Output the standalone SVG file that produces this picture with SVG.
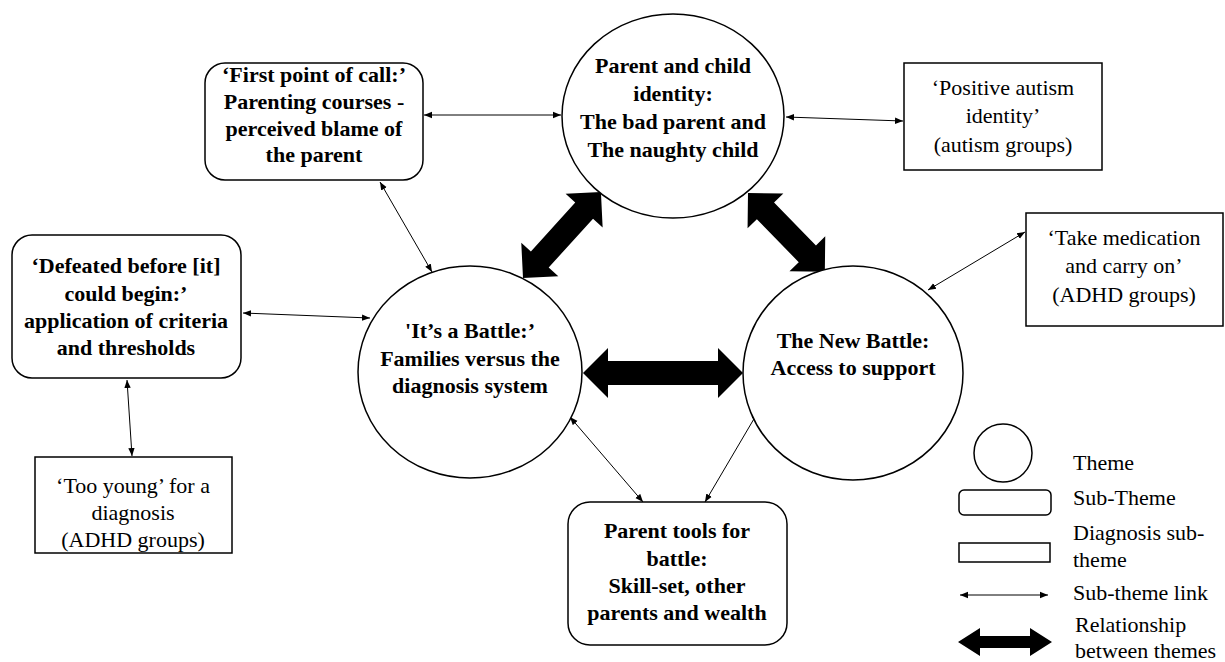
<svg xmlns="http://www.w3.org/2000/svg" width="1225" height="662" viewBox="0 0 1225 662">
<style>
.sh{fill:#fff;stroke:#000;stroke-width:1.5}
text{font-family:'Liberation Serif','Times New Roman',Times,serif;fill:#000}
.b{font-weight:bold;font-size:22px;text-anchor:middle}
.r{font-size:22px;text-anchor:middle}
.lg{font-size:22px}
.ln{stroke:#000;stroke-width:1;fill:none;marker-start:url(#ah);marker-end:url(#ah)}
.thick{fill:#000}
</style>
<defs>
<marker id="ah" viewBox="0 0 10 10" refX="10" refY="5" markerWidth="8" markerHeight="8" markerUnits="userSpaceOnUse" orient="auto-start-reverse">
<path d="M0,1 L10,5 L0,9 z" fill="#000"/>
</marker>
</defs>
<rect width="1225" height="662" fill="#fff"/>

<g id="connectors">
<line class="ln" x1="424" y1="115" x2="561" y2="115"/>
<line class="ln" x1="786" y1="117" x2="903" y2="121"/>
<line class="ln" x1="380" y1="182" x2="432" y2="272"/>
<line class="ln" x1="243" y1="313" x2="370" y2="318"/>
<line class="ln" x1="127" y1="380" x2="132" y2="456"/>
<line class="ln" x1="570" y1="417" x2="643" y2="502"/>
<line class="ln" x1="758" y1="412" x2="705" y2="502"/>
<line class="ln" x1="928" y1="290" x2="1025" y2="232"/>
<polygon class="thick" points="583,373 608,348 608,361 718,361 718,348 743,373 718,398 718,385 608,385 608,398"/>
<g transform="translate(523,278) rotate(-47.8)">
<polygon class="thick" points="0,0 25,-25 25,-12 91,-12 91,-25 116,0 91,25 91,12 25,12 25,25"/>
</g>
<g transform="translate(748,193) rotate(45.7)">
<polygon class="thick" points="0,0 25,-25 25,-12 85,-12 85,-25 110,0 85,25 85,12 25,12 25,25"/>
</g>
</g>

<g id="theme-identity">
<ellipse class="sh" cx="673" cy="116" rx="111" ry="102"/>
<text class="b" x="673" y="73">Parent and child</text>
<text class="b" x="673" y="101">identity:</text>
<text class="b" x="673" y="129">The bad parent and</text>
<text class="b" x="673" y="157">The naughty child</text>
</g>

<g id="theme-battle">
<ellipse class="sh" cx="470" cy="372" rx="112" ry="106"/>
<text class="b" x="470" y="338">'It’s a Battle:’</text>
<text class="b" x="470" y="366">Families versus the</text>
<text class="b" x="470" y="393">diagnosis system</text>
</g>

<g id="theme-newbattle">
<ellipse class="sh" cx="853" cy="373" rx="110" ry="107"/>
<text class="b" x="853" y="348">The New Battle:</text>
<text class="b" x="853" y="375">Access to support</text>
</g>

<g id="sub-firstpoint">
<rect class="sh" x="205" y="63" width="218" height="117" rx="20"/>
<text class="b" x="314" y="82">‘First point of call:’</text>
<text class="b" x="314" y="109">Parenting courses -</text>
<text class="b" x="314" y="136">perceived blame of</text>
<text class="b" x="314" y="162">the parent</text>
</g>

<g id="diag-positive">
<rect class="sh" x="904" y="63" width="198" height="107"/>
<text class="r" x="1003" y="95">‘Positive autism</text>
<text class="r" x="1003" y="123">identity’</text>
<text class="r" x="1003" y="152">(autism groups)</text>
</g>

<g id="sub-defeated">
<rect class="sh" x="12" y="235" width="229" height="143" rx="20"/>
<text class="b" x="126" y="273">‘Defeated before [it]</text>
<text class="b" x="126" y="301">could begin:’</text>
<text class="b" x="126" y="328">application of criteria</text>
<text class="b" x="126" y="355">and thresholds</text>
</g>

<g id="diag-tooyoung">
<rect class="sh" x="35" y="457" width="197" height="96"/>
<text class="r" x="133" y="493">‘Too young’ for a</text>
<text class="r" x="133" y="520">diagnosis</text>
<text class="r" x="133" y="547">(ADHD groups)</text>
</g>

<g id="diag-medication">
<rect class="sh" x="1026" y="213" width="197" height="113"/>
<text class="r" x="1124" y="245">‘Take medication</text>
<text class="r" x="1124" y="273">and carry on’</text>
<text class="r" x="1124" y="302">(ADHD groups)</text>
</g>

<g id="sub-tools">
<rect class="sh" x="568" y="502" width="219" height="143" rx="22"/>
<text class="b" x="677" y="538">Parent tools for</text>
<text class="b" x="677" y="566">battle:</text>
<text class="b" x="677" y="593">Skill-set, other</text>
<text class="b" x="677" y="620">parents and wealth</text>
</g>

<g id="legend">
<circle class="sh" cx="1003" cy="453" r="29"/>
<rect class="sh" x="959" y="490" width="92" height="25" rx="5"/>
<rect class="sh" x="959" y="543" width="91" height="19"/>
<line class="ln" x1="960" y1="595" x2="1048" y2="595"/>
<polygon class="thick" points="958,642 980,628 980,636 1030,636 1030,628 1052,642 1030,656 1030,648 980,648 980,656"/>
<text class="lg" x="1073" y="470">Theme</text>
<text class="lg" x="1073" y="505">Sub-Theme</text>
<text class="lg" x="1073" y="540">Diagnosis sub-</text>
<text class="lg" x="1073" y="567">theme</text>
<text class="lg" x="1073" y="600">Sub-theme link</text>
<text class="lg" x="1075" y="632">Relationship</text>
<text class="lg" x="1075" y="658">between themes</text>
</g>
</svg>
